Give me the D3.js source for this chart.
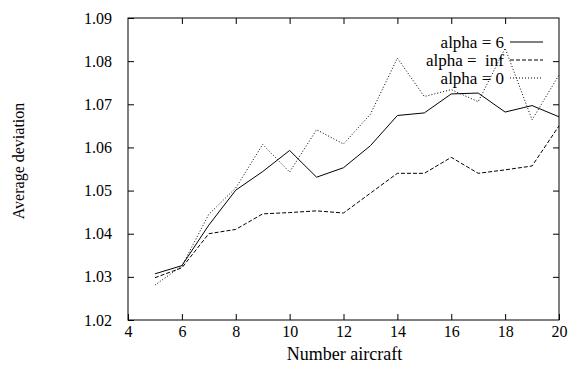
<!DOCTYPE html>
<html>
<head>
<meta charset="utf-8">
<script src="https://cdn.jsdelivr.net/npm/d3@7"></script>
<style>
  body { margin: 0; background: #fff; }
  svg { display: block; font-family: "Liberation Serif", "DejaVu Serif", serif; }
  .frame { fill: none; stroke: #000; stroke-width: 1; }
  .line { fill: none; stroke: #000; stroke-width: 1; }
</style>
</head>
<body>
<script>
// values
var aircraft = [5, 6, 7, 8, 9, 10, 11, 12, 13, 14, 15, 16, 17, 18, 19, 20];
var alpha6   = [1.0307, 1.0326, 1.0420, 1.0501, 1.0544, 1.0593, 1.0531, 1.0553, 1.0604, 1.0674, 1.0680, 1.0724, 1.0726, 1.0682, 1.0697, 1.0671];
var alphaInf = [1.0298, 1.0321, 1.0400, 1.0410, 1.0446, 1.0449, 1.0453, 1.0448, 1.0494, 1.0540, 1.0540, 1.0577, 1.0540, 1.0548, 1.0557, 1.0650];
var alpha0   = [1.0281, 1.0325, 1.0445, 1.0506, 1.0607, 1.0543, 1.0641, 1.0608, 1.0677, 1.0807, 1.0718, 1.0734, 1.0706, 1.0830, 1.0664, 1.0768];
var seriesNames = ["alpha = 6", "alpha =  inf", "alpha = 0"];
var xTicks = [4, 6, 8, 10, 12, 14, 16, 18, 20];
var yTicks = [1.02, 1.03, 1.04, 1.05, 1.06, 1.07, 1.08, 1.09];

(function(){
var width = 570, height = 365;
var plotLeft = 128, plotRight = 559, plotTop = 18, plotBottom = 320;

var svg = d3.select("body").append("svg")
    .attr("width", width)
    .attr("height", height);

var x = d3.scaleLinear().domain([4, 20]).range([plotLeft, plotRight]);
var y = d3.scaleLinear().domain([1.02, 1.09]).range([plotBottom, plotTop]);

//axes with inward ticks, mirrored on top and right
var tickLen = 6;
svg.append("g")
    .attr("transform", "translate(0," + plotBottom + ")")
    .call(d3.axisBottom(x).tickValues(xTicks).tickSizeInner(-tickLen).tickSizeOuter(0).tickPadding(6))
    .call(styleAxis);
svg.append("g")
    .attr("transform", "translate(0," + plotTop + ")")
    .call(d3.axisTop(x).tickValues(xTicks.slice(1, -1)).tickSizeInner(-tickLen).tickSizeOuter(0).tickFormat(""))
    .call(styleAxis);
svg.append("g")
    .attr("transform", "translate(" + plotLeft + ",0)")
    .call(d3.axisLeft(y).tickValues(yTicks).tickSizeInner(-tickLen).tickSizeOuter(0).tickPadding(16).tickFormat(d3.format(".2f")))
    .call(styleAxis);
svg.append("g")
    .attr("transform", "translate(" + plotRight + ",0)")
    .call(d3.axisRight(y).tickValues(yTicks.slice(1, -1)).tickSizeInner(-tickLen).tickSizeOuter(0).tickFormat(""))
    .call(styleAxis);

function styleAxis(g){
    g.select(".domain").remove();
    g.selectAll(".tick line").attr("stroke", "#000");
    g.selectAll(".tick text")
        .attr("fill", "#000")
        .style("font-size", "16px")
        .style("font-family", "'Liberation Serif', serif");
};

svg.append("rect")
    .attr("class", "frame")
    .attr("x", plotLeft)
    .attr("y", plotTop)
    .attr("width", plotRight - plotLeft)
    .attr("height", plotBottom - plotTop);

//series
var dashes = [null, "4,2", "1,2"];
var allSeries = [alpha6, alphaInf, alpha0];
var line = d3.line()
    .x(function(d, i){ return x(aircraft[i]); })
    .y(function(d){ return y(d); });

allSeries.forEach(function(s, k){
    svg.append("path")
        .datum(s)
        .attr("class", "line")
        .attr("stroke-dasharray", dashes[k])
        .attr("d", line);
});

//legend
var legend = svg.append("g").attr("class", "legend");
seriesNames.forEach(function(name, k){
    var ly = 42 + k * 18;
    legend.append("text")
        .attr("x", 504)
        .attr("y", ly + 6)
        .attr("text-anchor", "end")
        .style("font-size", "17px")
        .style("white-space", "pre")
        .text(name);
    legend.append("line")
        .attr("class", "line")
        .attr("x1", 510)
        .attr("x2", 543)
        .attr("y1", ly)
        .attr("y2", ly)
        .attr("stroke-dasharray", dashes[k]);
});

//axis titles
svg.append("text")
    .attr("x", (plotLeft + plotRight) / 2 + 1)
    .attr("y", 360)
    .attr("text-anchor", "middle")
    .style("font-size", "18px")
    .text("Number aircraft");

svg.append("text")
    .attr("transform", "translate(24,161) rotate(-90)")
    .attr("text-anchor", "middle")
    .style("font-size", "16px")
    .text("Average deviation");
})();
</script>
</body>
</html>
